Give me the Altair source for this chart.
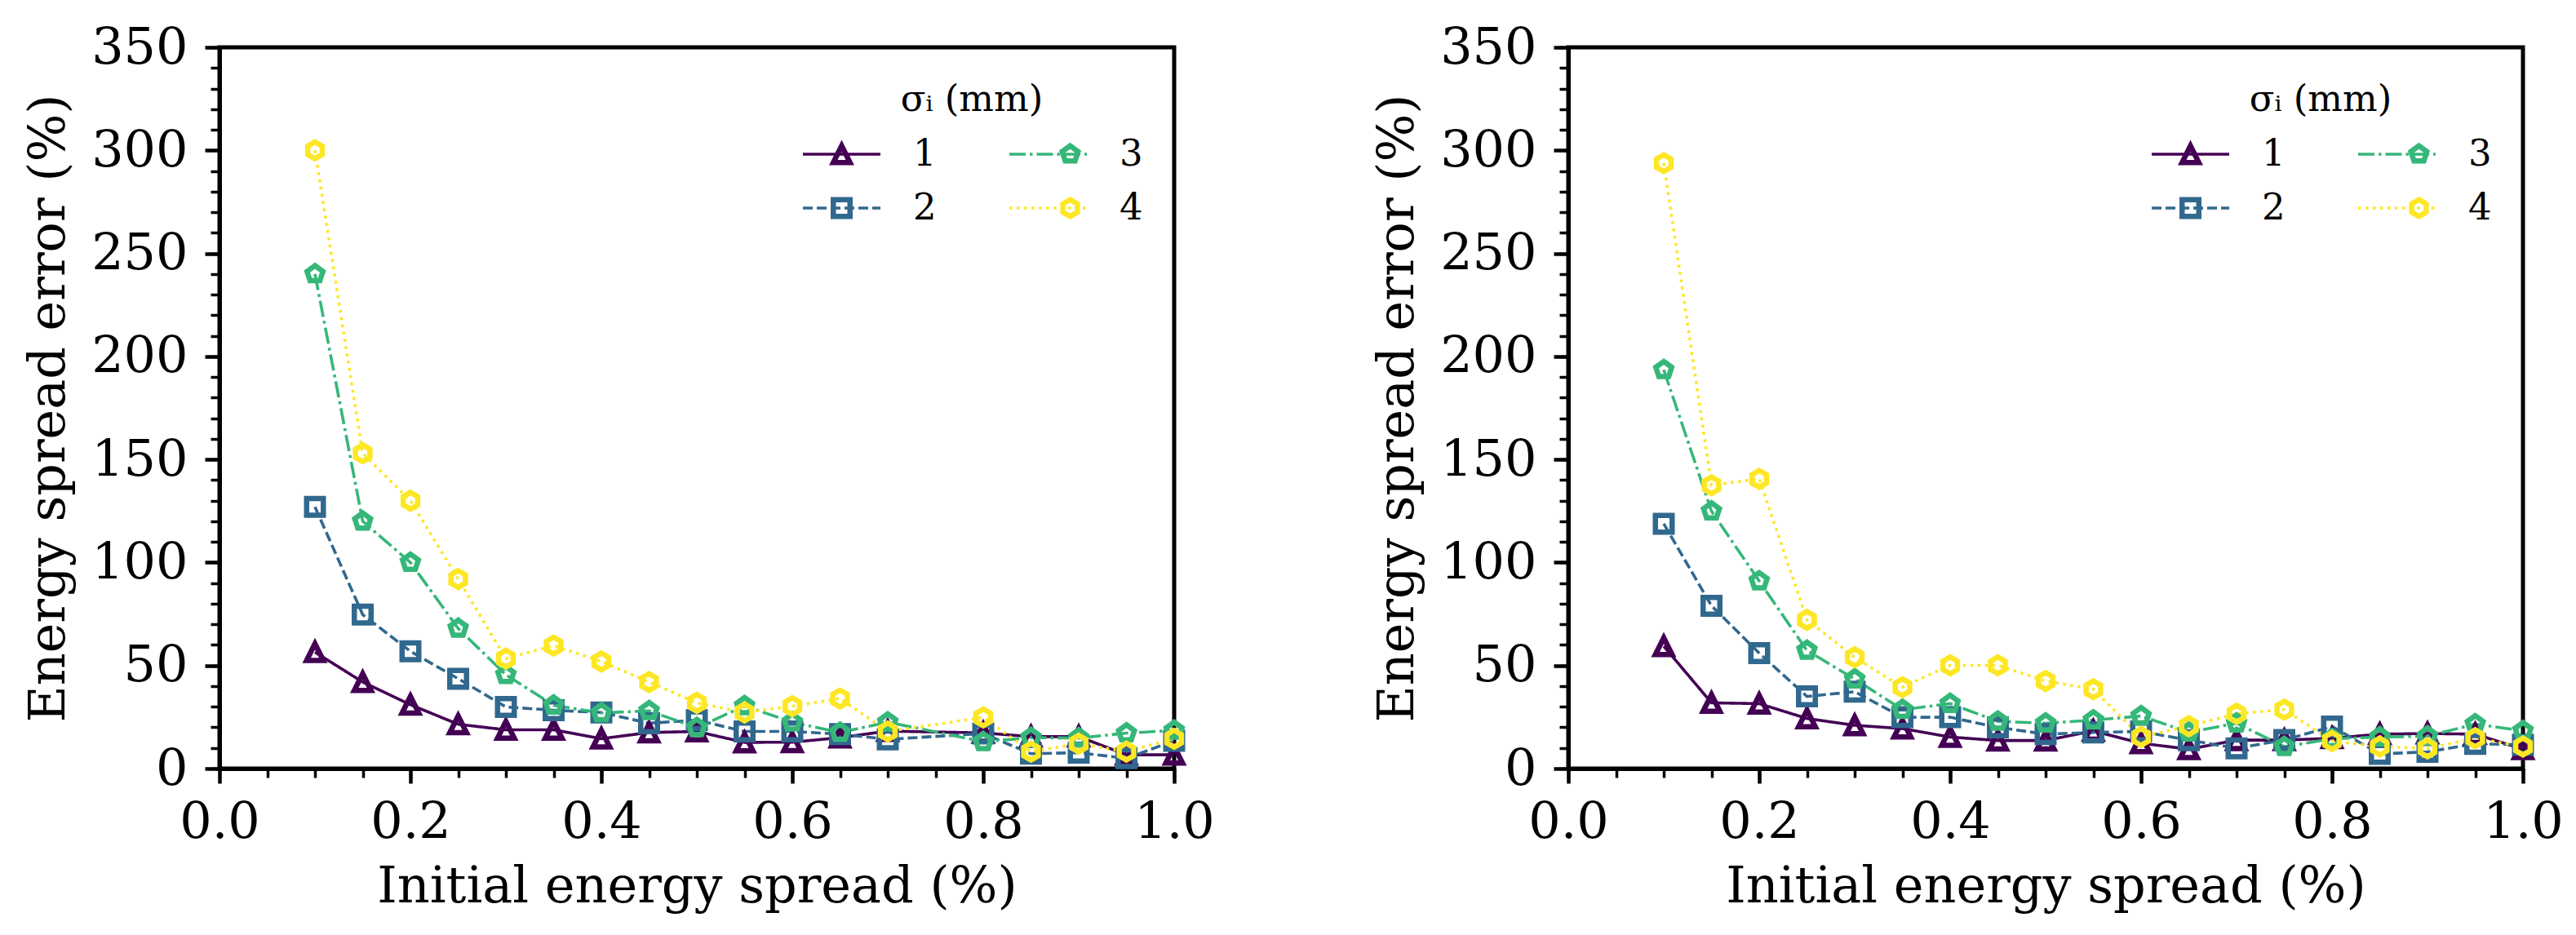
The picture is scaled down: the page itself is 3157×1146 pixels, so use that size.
import altair as alt
import pandas as pd

# ---------------- data ----------------
x_left = [0.1, 0.15, 0.2, 0.25, 0.3, 0.35, 0.4, 0.45, 0.5, 0.55, 0.6, 0.65, 0.7,
          0.8, 0.85, 0.9, 0.95, 1.0]
left_s1 = [56.5, 42, 31, 21.5, 18.8, 18.8, 14.5, 17.5, 18, 12.7, 12.8, 15, 18.2,
           17.3, 15.5, 15.5, 6.7, 6.7]
left_s2 = [127, 74.7, 56.9, 43.6, 29.9, 28.3, 27.2, 22, 23.5, 18, 18, 16.7, 14.2,
           17, 7.2, 7.7, 5, 13.5]
left_s3 = [240, 120, 100, 68, 45.5, 30.7, 27, 28, 19.8, 30.4, 22.5, 17.5, 22.5,
           13, 15, 14.8, 17.2, 18.5]
left_s4 = [300, 153, 130, 92, 53.4, 59.7, 52, 42, 31.9, 27.2, 30.3, 34, 18,
           24.8, 8.2, 12.1, 8.2, 14.5]

x_right = [0.1, 0.15, 0.2, 0.25, 0.3, 0.35, 0.4, 0.45, 0.5, 0.55, 0.6, 0.65, 0.7,
           0.75, 0.8, 0.85, 0.9, 0.95, 1.0]
right_s1 = [59.4, 31.9, 31.5, 24.3, 21, 19.4, 15.3, 13.6, 13.6, 18.3, 12.3, 9.4,
            13.8, 13.8, 14.7, 16.7, 17, 16.7, 9.4]
right_s2 = [118.8, 79, 56, 35, 37.3, 24.9, 24.9, 20, 16.7, 17.5, 18, 13.8, 9.8,
            13.9, 20.4, 7.1, 8.1, 12, 11.6]
right_s3 = [193.5, 124.9, 91, 57.3, 43.4, 28.6, 31.5, 22.9, 22, 23.5, 25.5, 17.6,
            22, 10.6, 14.4, 15.3, 15.7, 21.6, 18.3]
right_s4 = [293.8, 137.5, 140.6, 72.2, 54, 39.5, 50.1, 50.1, 42.5, 38.5, 15.3,
            20.6, 26.6, 28.6, 13.4, 10.7, 9.8, 14.7, 10.7]

sigma_labels = ["1", "2", "3", "4"]
x_major = [0.0, 0.2, 0.4, 0.6, 0.8, 1.0]
x_minor = [round(i * 0.05, 2) for i in range(21)]
y_major = [0, 50, 100, 150, 200, 250, 300, 350]
y_minor = list(range(0, 351, 10))

# ---------------- styles ----------------
FONT = "DejaVu Serif"
LINE_W = 3.6
MARK_W = 6.5
MARK_SIZE = 420
colors = {"1": "#440154", "2": "#31688e", "3": "#35b779", "4": "#fde725"}
dashes = {"1": [1, 0], "2": [12, 5], "3": [20, 5, 3.5, 5], "4": [3.5, 5.5]}
shapes = {
    "1": "M0,-1L-1,1L1,1Z",
    "2": "M-1,-1L1,-1L1,1L-1,1Z",
    "3": "M0,-1L-0.951,-0.309L-0.588,0.809L0.588,0.809L0.951,-0.309Z",
    "4": "M0,-1L-0.866,-0.5L-0.866,0.5L0,1L0.866,0.5L0.866,-0.5Z",
}


def long_df(xs, series):
    rows = []
    for lab, ys in zip(sigma_labels, series):
        for xv, yv in zip(xs, ys):
            rows.append({"x": xv, "y": yv, "sigma": lab})
    return pd.DataFrame(rows)


df_left = long_df(x_left, [left_s1, left_s2, left_s3, left_s4])
df_right = long_df(x_right, [right_s1, right_s2, right_s3, right_s4])

LEG_COMMON = dict(
    orient="none",
    legendX=713,
    columns=2,
    padding=0,
    clipHeight=60,
    rowPadding=6,
    labelFont=FONT,
    labelFontSize=45,
    labelColor="black",
    labelBaseline="middle",
)

# legend of the line styles (with the labels and the title)
leg_line = alt.Legend(
    title="σᵢ (mm)",
    legendY=42,
    titleFont=FONT,
    titleFontSize=45,
    titleFontWeight="normal",
    titleColor="black",
    titleAnchor="middle",
    titlePadding=14,
    symbolType="stroke",
    symbolSize=9025,
    symbolStrokeWidth=LINE_W,
    labelOffset=38,
    columnPadding=87,
    **LEG_COMMON,
)

# legend of the markers, laid over the line legend
leg_marker = alt.Legend(
    title=None,
    legendY=101,
    symbolSize=MARK_SIZE,
    symbolStrokeWidth=MARK_W,
    symbolFillColor="transparent",
    symbolOffset=27,
    labelOffset=121,
    labelExpr="''",
    columnPadding=87,
    **LEG_COMMON,
)

axis_x_major = alt.Axis(
    orient="bottom", values=x_major, format=".1f", grid=False,
    domain=True, domainColor="black", domainWidth=5,
    ticks=True, tickSize=18, tickWidth=4.5, tickColor="black",
    labelFont=FONT, labelFontSize=62, labelColor="black", labelPadding=17,
    labelFlush=False,
    title="Initial energy spread (%)", titleFont=FONT, titleFontSize=62,
    titleFontWeight="normal", titleColor="black", titlePadding=18,
)
axis_x_minor = alt.Axis(
    orient="bottom", values=x_minor, grid=False, domain=False, labels=False,
    tickSize=11, tickWidth=3.5, tickColor="black", title=None,
)
axis_y_major = alt.Axis(
    orient="left", values=y_major, format="d", grid=False,
    domain=True, domainColor="black", domainWidth=5,
    ticks=True, tickSize=18, tickWidth=4.5, tickColor="black",
    labelFont=FONT, labelFontSize=62, labelColor="black", labelPadding=21,
    labelFlush=False,
    title="Energy spread error (%)", titleFont=FONT, titleFontSize=62,
    titleFontWeight="normal", titleColor="black", titlePadding=20,
)
axis_y_minor = alt.Axis(
    orient="left", values=y_minor, grid=False, domain=False, labels=False,
    tickSize=11, tickWidth=3.5, tickColor="black", title=None,
)


def panel(df):
    xs = alt.Scale(domain=[0, 1], nice=False, zero=False)
    ys = alt.Scale(domain=[0, 350], nice=False)
    cscale = alt.Scale(domain=sigma_labels, range=[colors[k] for k in sigma_labels])
    dscale = alt.Scale(domain=sigma_labels, range=[dashes[k] for k in sigma_labels])
    sscale = alt.Scale(domain=sigma_labels, range=[shapes[k] for k in sigma_labels])

    lines = alt.Chart(df).mark_line(strokeWidth=LINE_W).encode(
        x=alt.X("x:Q", scale=xs, axis=axis_x_major),
        y=alt.Y("y:Q", scale=ys, axis=axis_y_major),
        color=alt.Color("sigma:N", scale=cscale, legend=leg_line),
        strokeDash=alt.StrokeDash("sigma:N", scale=dscale, legend=leg_line),
    )
    points = alt.Chart(df).mark_point(
        filled=False, opacity=1, size=MARK_SIZE, strokeWidth=MARK_W
    ).encode(
        x=alt.X("x:Q", scale=xs, axis=axis_x_minor),
        y=alt.Y("y:Q", scale=ys, axis=axis_y_minor),
        color=alt.Color("sigma:N", scale=cscale, legend=leg_marker),
        shape=alt.Shape("sigma:N", scale=sscale, legend=leg_marker),
    )
    return (
        alt.layer(lines, points)
        .resolve_axis(x="independent", y="independent")
        .resolve_scale(color="independent", shape="independent",
                       strokeDash="independent")
        .properties(width=1170, height=884)
    )


chart = (
    alt.hconcat(panel(df_left), panel(df_right), spacing=188)
    .properties(padding={"left": 18, "top": 16, "right": 5, "bottom": 5},
                background="white")
    .configure_view(stroke="black", strokeWidth=5)
)

chart.save("out.html", embed_options={"renderer": "svg", "actions": False})
